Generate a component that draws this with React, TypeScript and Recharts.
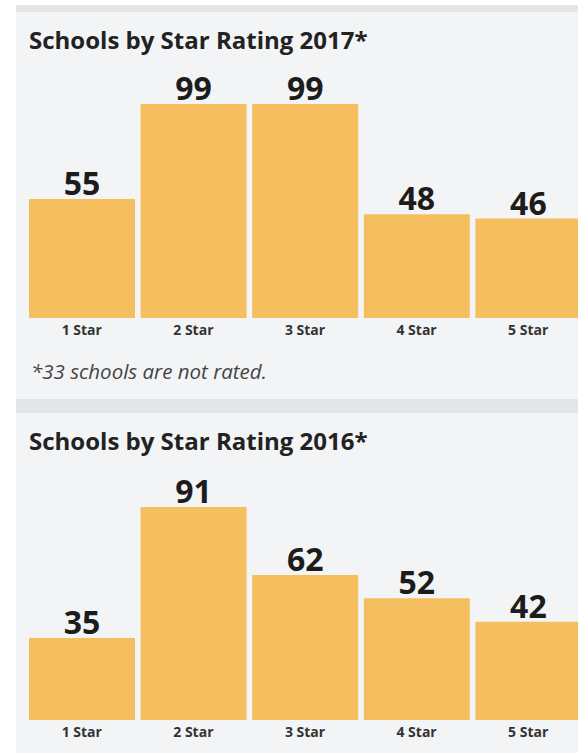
import React from 'react';
import { BarChart, Bar, XAxis, YAxis, LabelList } from 'recharts';

const categories = ['1 Star', '2 Star', '3 Star', '4 Star', '5 Star'];
const values2017 = [55, 99, 99, 48, 46];
const values2016 = [35, 91, 62, 52, 42];

const BAR_COLOR = '#F5BF5F';
const PANEL_BG = '#f3f4f5';
const BAND_BG = '#e4e5e7';
const FONT = '"Open Sans", "Noto Sans", sans-serif';

const toRows = (values: number[]) => categories.map((name, i) => ({ name, value: values[i] }));

interface StarChartProps {
    values: number[];
    top: number;
    plotHeight: number;
}

const StarChart: React.FC<StarChartProps> = ({ values, top, plotHeight }) => {
    const data = toRows(values);
    return (
        <div style={{ position: 'absolute', left: 0, top }}>
            <BarChart
                width={600}
                height={40 + plotHeight + 30}
                data={data}
                margin={{ top: 40, right: 16, left: 26, bottom: 0 }}
                barCategoryGap={3}
            >
                <XAxis
                    dataKey="name"
                    axisLine={false}
                    tickLine={false}
                    height={30}
                    interval={0}
                    tickSize={5}
                    tick={{ fontSize: 14, fontWeight: 700, fill: '#333', fontFamily: FONT }}
                />
                <YAxis hide domain={[0, 'dataMax']} />
                <Bar dataKey="value" fill={BAR_COLOR} isAnimationActive={false}>
                    <LabelList
                        dataKey="value"
                        position="top"
                        offset={4}
                        style={{ fontSize: 32, fontWeight: 700, fill: '#1c1c1c', fontFamily: FONT }}
                    />
                </Bar>
            </BarChart>
        </div>
    );
};

const titleStyle: React.CSSProperties = {
    position: 'absolute',
    left: 29,
    fontFamily: FONT,
    fontWeight: 700,
    fontSize: 24,
    lineHeight: '32px',
    color: '#222',
    whiteSpace: 'nowrap',
};

export default function App() {
    return (
        <div
            style={{
                position: 'absolute',
                left: 0,
                top: 0,
                width: 578,
                height: 753,
                overflow: 'hidden',
                background: '#fff',
            }}
        >
            {/* panel backgrounds and separator bands */}
            <div style={{ position: 'absolute', left: 16, top: 5, width: 600, height: 7, background: BAND_BG }} />
            <div style={{ position: 'absolute', left: 16, top: 12, width: 600, height: 387, background: PANEL_BG }} />
            <div style={{ position: 'absolute', left: 16, top: 399, width: 600, height: 14, background: BAND_BG }} />
            <div style={{ position: 'absolute', left: 16, top: 413, width: 600, height: 340, background: PANEL_BG }} />

            <div style={{ ...titleStyle, top: 24 }}>Schools by Star Rating 2017*</div>
            <StarChart values={values2017} top={64} plotHeight={214} />
            <div
                style={{
                    position: 'absolute',
                    left: 31,
                    top: 358,
                    fontFamily: FONT,
                    fontStyle: 'italic',
                    fontSize: 20.5,
                    lineHeight: '27px',
                    color: '#444',
                    whiteSpace: 'nowrap',
                }}
            >
                *33 schools are not rated.
            </div>

            <div style={{ ...titleStyle, top: 425 }}>Schools by Star Rating 2016*</div>
            <StarChart values={values2016} top={467} plotHeight={213} />
        </div>
    );
}
